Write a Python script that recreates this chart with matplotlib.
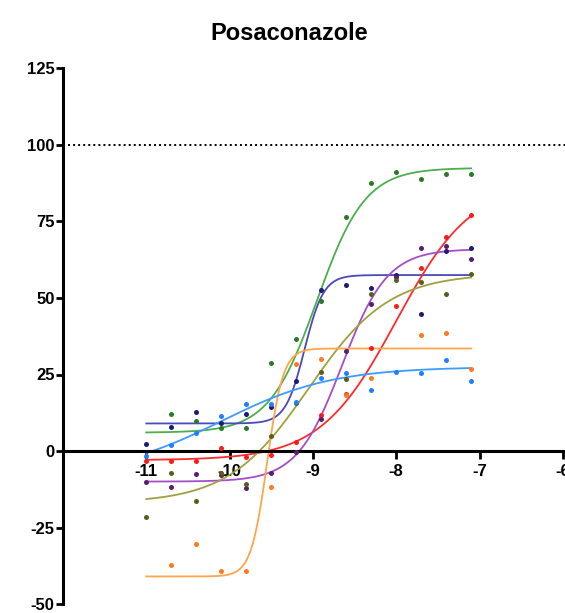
import matplotlib
matplotlib.use("Agg")
import matplotlib.pyplot as plt
import numpy as np

# log concentration (M), half-log-2 dilution steps
log_conc = [-11.0, -10.7, -10.4, -10.1, -9.8, -9.5, -9.2, -8.9, -8.6, -8.3, -8.0, -7.7, -7.4, -7.1]
nan = np.nan

# % response (nan = point hidden behind others)
green = [nan, 12.0, 9.9, 7.6, 7.6, 28.9, 36.5, 49.1, 76.6, 87.5, 91.1, 88.8, 90.5, 90.5]
navy = [2.3, 7.7, 12.8, 9.3, 12.0, 14.5, 23.0, 52.6, 54.2, 53.2, 57.5, 44.7, 65.5, 66.4]
red = [-3.2, -3.3, -3.3, 1.1, -1.9, -1.3, 3.0, 11.8, 18.6, 33.8, 47.4, 59.7, 70.0, 77.0]
purple = [-10.0, -11.7, -7.6, -8.0, -12.2, -7.1, -0.2, 10.4, 32.7, 48.0, 57.0, 66.2, 67.0, 62.8]
olive = [-21.6, -7.1, -16.2, -7.2, -10.8, 4.9, 15.8, 25.9, 23.4, 51.3, 56.0, 55.1, 51.3, 57.8]
orange = [nan, -37.3, -30.5, -39.1, -39.1, -11.9, 28.4, 30.0, 18.3, 24.0, nan, 37.9, 38.7, 26.8]
lightblue = [-1.5, 1.9, 5.8, 11.3, 15.4, 15.4, 16.1, 23.7, 25.4, 19.9, 25.9, 25.4, 29.7, 23.0]

# fitted curve parameters: bottom, top, logEC50, hill slope
fit_green = [6.0, 92.5, -8.95, 1.5]
fit_navy = [9.0, 57.5, -9.1, 3.8]
fit_red = [-3.0, 88.0, -8.0, 0.95]
fit_purple = [-10.0, 66.0, -8.65, 1.6]
fit_olive = [-17.0, 58.0, -9.05, 0.9]
fit_orange = [-41.0, 33.5, -9.55, 4.5]
fit_lightblue = [-8.0, 27.5, -10.1, 0.65]

y_ticks = [-50, -25, 0, 25, 50, 75, 100, 125]
x_ticks = [-11, -10, -9, -8, -7, -6]
x_tick_labels = ["-11", "-10", "-9", "-8", "-7", "-6"]

series = [
    (green, fit_green, "#4cae4c", "#2a7a2a"),
    (navy, fit_navy, "#4a4ab8", "#1c1c70"),
    (red, fit_red, "#ff2a2a", "#ff1a1a"),
    (purple, fit_purple, "#a64dc8", "#5a1e6e"),
    (olive, fit_olive, "#a0a040", "#5c5c1c"),
    (orange, fit_orange, "#ffa54a", "#ff7a1e"),
    (lightblue, fit_lightblue, "#3d9bff", "#1e80ff"),
]


def four_pl(x, p):
    bottom, top, ec50, hill = p
    return bottom + (top - bottom) / (1 + 10 ** ((ec50 - x) * hill))


plt.rcParams["font.family"] = ["Liberation Sans", "DejaVu Sans"]
plt.rcParams["font.weight"] = "bold"

fig = plt.figure(figsize=(5.65, 6.13), dpi=100)
ax = fig.add_axes([63 / 565, 9 / 613, 504 / 565, 535.5 / 613])

xs = np.linspace(log_conc[0], log_conc[-1], 300)
for vals, fit, line_c, pt_c in series:
    ax.plot(xs, four_pl(xs, fit), color=line_c, lw=1.3, zorder=2)
for vals, fit, line_c, pt_c in series:
    ax.plot(log_conc, vals, "o", color=pt_c, ms=3.6, mec="none", zorder=3)

ax.axhline(100, color="black", lw=1.4, ls=(0, (1, 1.6)), zorder=1)

ax.set_xlim(-12, -5.95)
ax.set_ylim(-50, 125)
ax.spines["top"].set_visible(False)
ax.spines["right"].set_visible(False)
ax.spines["bottom"].set_position(("data", 0))
ax.spines["left"].set_bounds(-50, 125)
for s in ("left", "bottom"):
    ax.spines[s].set_linewidth(2.2)

ax.set_yticks(y_ticks)
ax.set_yticklabels([str(v) for v in y_ticks])
ax.set_xticks(x_ticks)
ax.set_xticklabels(x_tick_labels)
ax.tick_params(axis="both", direction="out", length=5, width=2, labelsize=12, pad=1)
ax.tick_params(axis="x", length=6, pad=3)

fig.text(289 / 565, 1 - 33 / 613, "Posaconazole", ha="center", va="center",
         fontsize=17, fontweight="bold")

fig.savefig("out.png", dpi=100)
